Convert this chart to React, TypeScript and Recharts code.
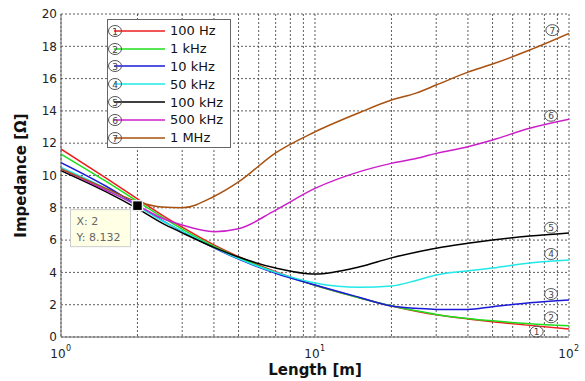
import { LineChart, Line, XAxis, YAxis, CartesianGrid, Legend, ReferenceDot } from 'recharts';

const FONT = '"DejaVu Sans", Arial, sans-serif';

// Cable length [m] (log axis)
const lengths = [1, 1.5, 2, 2.5, 3, 4, 5, 7, 10, 15, 20, 25, 30, 40, 50, 70, 100];

// Impedance [Ohm] per frequency
const hz100 = [11.64, 9.85, 8.55, 7.55, 6.8, 5.7, 4.97, 4.05, 3.2, 2.42, 1.92, 1.6, 1.38, 1.12, 0.95, 0.72, 0.5];
const khz1 = [11.33, 9.65, 8.4, 7.42, 6.68, 5.62, 4.92, 4.0, 3.2, 2.42, 1.93, 1.62, 1.4, 1.15, 1.0, 0.82, 0.7];
const khz10 = [10.8, 9.35, 8.15, 7.22, 6.52, 5.52, 4.82, 3.95, 3.22, 2.45, 1.92, 1.78, 1.71, 1.71, 1.88, 2.12, 2.29];
const khz50 = [10.5, 9.2, 8.1, 7.2, 6.55, 5.55, 4.85, 4.0, 3.35, 3.08, 3.16, 3.5, 3.84, 4.1, 4.27, 4.58, 4.77];
const khz100 = [10.3, 9.0, 7.95, 7.05, 6.45, 5.55, 4.95, 4.27, 3.9, 4.35, 4.9, 5.25, 5.5, 5.8, 6.0, 6.25, 6.44];
const khz500 = [10.4, 9.1, 8.15, 7.35, 6.93, 6.52, 6.7, 7.86, 9.2, 10.24, 10.75, 11.05, 11.37, 11.78, 12.2, 12.92, 13.48];
const mhz1 = [10.4, 9.2, 8.38, 8.05, 8.0, 8.7, 9.6, 11.4, 12.7, 13.9, 14.67, 15.1, 15.6, 16.4, 16.9, 17.77, 18.8];

const seriesNames = ['100 Hz', '1 kHz', '10 kHz', '50 kHz', '100 kHz', '500 kHz', '1 MHz'];
const seriesKeys = ['hz100', 'khz1', 'khz10', 'khz50', 'khz100', 'khz500', 'mhz1'];
const seriesColors = ['#ee1c1c', '#1ede1e', '#1a1ad8', '#22e8e8', '#000000', '#cc1fcc', '#a8500f'];
const seriesValues = [hz100, khz1, khz10, khz50, khz100, khz500, mhz1];

// circled curve numbers next to the right edge
const markX = [86, 85, 85, 85, 85, 85, 74.6];
const markY = [19.0, 13.7, 6.77, 5.14, 2.66, 1.22, 0.33];
const markNum = [7, 6, 5, 4, 3, 2, 1];

// data tip
const tipX = 2;
const tipY = 8.132;

const xTicks = [1, 2, 3, 4, 5, 6, 7, 8, 9, 10, 20, 30, 40, 50, 60, 70, 80, 90, 100];
const yTicks = [0, 2, 4, 6, 8, 10, 12, 14, 16, 18, 20];

const data = lengths.map((length, i) => {
  const row: Record<string, number> = { length };
  seriesKeys.forEach((k, s) => {
    row[k] = seriesValues[s][i];
  });
  return row;
});

function Circled({ cx, cy, n }: { cx: number; cy: number; n: number }) {
  return (
    <g>
      <ellipse cx={cx} cy={cy} rx={6.5} ry={5.5} fill="#fff" fillOpacity={0} stroke="#555" strokeWidth={1} />
      <text x={cx} y={cy + 3.5} textAnchor="middle" fontSize={9} fontFamily={FONT} fill="#444">
        {n}
      </text>
    </g>
  );
}

function XTick(props: any) {
  const { x, y, payload } = props;
  if (![1, 10, 100].includes(payload.value)) return <g />;
  const exp = Math.round(Math.log10(payload.value));
  return (
    <g fontFamily={FONT} fill="#222">
      <text x={x - 3} y={y + 19} textAnchor="middle" fontSize={12}>10</text>
      <text x={x + 5} y={y + 12} fontSize={8}>{exp}</text>
    </g>
  );
}

function renderLegend() {
  return (
    <div
      style={{
        width: 124,
        height: 129,
        border: '1px solid #666',
        background: '#fff',
        boxSizing: 'border-box',
        paddingTop: 2,
        fontFamily: FONT,
        fontSize: 13,
        color: '#111',
        textAlign: 'left',
      }}
    >
      {seriesNames.map((name, i) => (
        <div key={name} style={{ display: 'flex', alignItems: 'center', height: 17.8 }}>
          <svg width={62} height={14} style={{ flex: 'none' }}>
            <line x1={6} y1={7} x2={57} y2={7} stroke={seriesColors[i]} strokeWidth={1.5} />
            <Circled cx={7} cy={7} n={i + 1} />
          </svg>
          <span>{name}</span>
        </div>
      ))}
    </div>
  );
}

function TipShape(props: any) {
  const { cx, cy } = props;
  return (
    <g fontFamily={FONT}>
      <rect x={cx - 67} y={cy + 4} width={60} height={37} fill="#ffffe6" stroke="#ccc" />
      <text x={cx - 61} y={cy + 19} fontSize={11} fill="#666">X: {tipX}</text>
      <text x={cx - 61} y={cy + 35} fontSize={11} fill="#666">Y: {tipY}</text>
      <rect x={cx - 5} y={cy - 5} width={10} height={10} fill="#000" stroke="#eee" strokeWidth={1.5} />
    </g>
  );
}

export default function App() {
  return (
    <div style={{ position: 'absolute', left: 0, top: 0, background: '#fff' }}>
      <LineChart width={585} height={381} data={data} margin={{ top: 14, right: 16, bottom: 0, left: 0 }}>
        <CartesianGrid stroke="#333" strokeDasharray="2 2" strokeWidth={0.8} />
        <XAxis
          dataKey="length"
          type="number"
          scale="log"
          domain={[1, 100]}
          ticks={xTicks}
          interval={0}
          allowDataOverflow
          height={44}
          tickLine={false}
          tickSize={0}
          axisLine={{ stroke: '#666' }}
          tick={<XTick />}
          label={{
            value: 'Length [m]',
            position: 'insideBottom',
            offset: 6,
            style: { fontFamily: FONT, fontSize: 15, fontWeight: 'bold', fill: '#111' },
          }}
        />
        <XAxis xAxisId="top" orientation="top" dataKey="length" type="number" scale="log" domain={[1, 100]} height={0} tick={false} tickLine={false} axisLine={{ stroke: '#666' }} />
        <YAxis
          type="number"
          domain={[0, 20]}
          ticks={yTicks}
          width={61}
          tickLine={false}
          tickSize={0}
          tickMargin={4}
          axisLine={{ stroke: '#666' }}
          tick={{ fontFamily: FONT, fontSize: 12, fill: '#222' }}
          label={{
            position: 'center',
            content: (p: any) => {
              const vb = p.viewBox;
              const cy = vb.y + vb.height / 2;
              return (
                <text x={21} y={cy} transform={`rotate(-90 21 ${cy})`} textAnchor="middle" dominantBaseline="central" fontFamily={FONT} fontSize={15} fontWeight="bold" fill="#111">
                  Impedance [Ω]
                </text>
              );
            },
          }}
        />
        <YAxis yAxisId="right" orientation="right" domain={[0, 20]} width={0} tick={false} tickLine={false} axisLine={{ stroke: '#666' }} />
        {seriesKeys.map((k, i) => (
          <Line key={k} dataKey={k} type="monotone" stroke={seriesColors[i]} strokeWidth={1.5} dot={false} isAnimationActive={false} />
        ))}
        {markNum.map((n, i) => (
          <ReferenceDot
            key={n}
            x={markX[i]}
            y={markY[i]}
            r={0}
            ifOverflow="visible"
            shape={(p: any) => <Circled cx={p.cx} cy={p.cy} n={n} />}
          />
        ))}
        <ReferenceDot x={tipX} y={tipY} r={0} ifOverflow="visible" shape={(p: any) => <TipShape {...p} />} />
        <Legend
          content={renderLegend}
          layout="horizontal"
          verticalAlign="middle"
          align="center"
          wrapperStyle={{ left: 107, top: 19, width: 124 }}
        />
      </LineChart>
    </div>
  );
}
